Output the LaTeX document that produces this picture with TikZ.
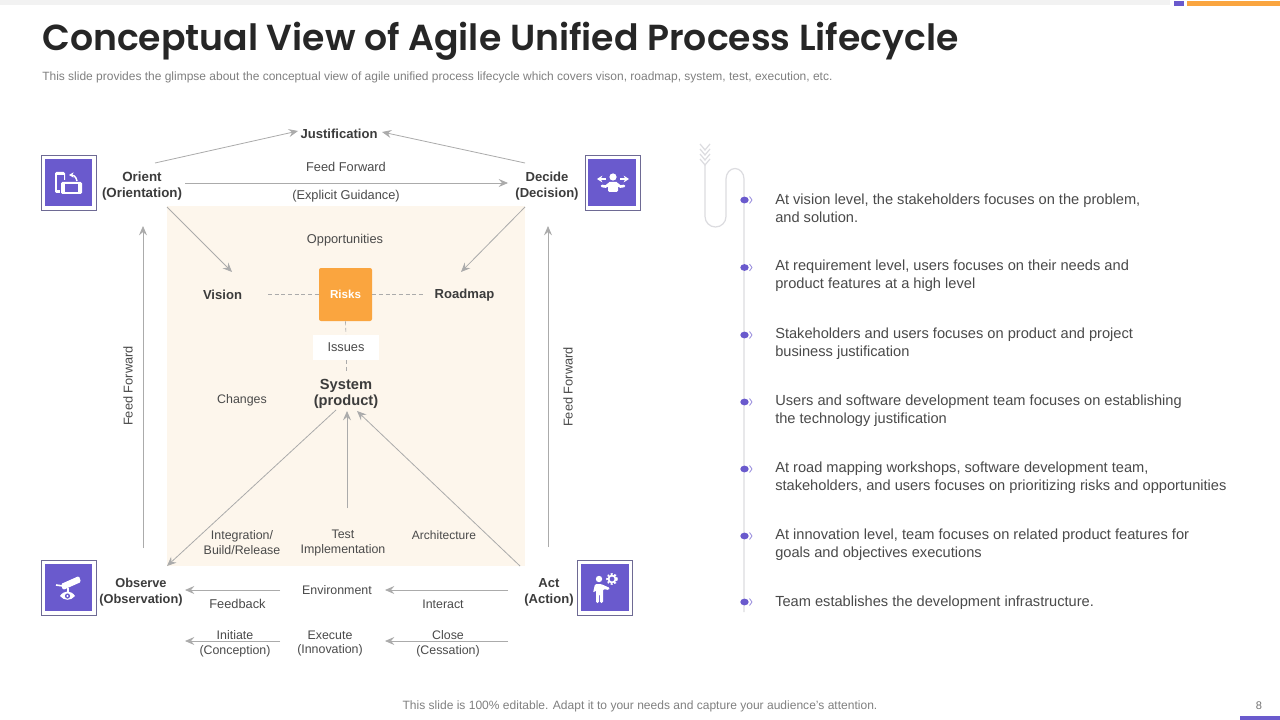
\documentclass[tikz,border=0pt]{standalone}
\usepackage{fontspec}
\setmainfont{Liberation Sans}
\newfontfamily\titlefont{Poppins SemiBold}
\usetikzlibrary{arrows.meta}
\definecolor{purp}{HTML}{6A5ACD}
\definecolor{orng}{HTML}{FAA53F}
\definecolor{fawn}{HTML}{FDF6EC}
\definecolor{conn}{HTML}{ABABAB}
\definecolor{txt}{HTML}{4A4A4A}
\definecolor{txtb}{HTML}{3C3C3C}
\definecolor{tline}{HTML}{DCDCE0}
\definecolor{boxln}{HTML}{6E6A94}
\tikzset{
 lab/.style={font=\fontsize{9.3}{11.2}\selectfont,text=txt,align=center,inner sep=0pt},
 labw/.style={lab,font=\fontsize{9.6}{11.2}\selectfont},
 blab/.style={font=\fontsize{9.8}{12}\selectfont\bfseries,text=txtb,align=center,inner sep=0pt},
 arr/.style={draw=conn,line width=0.6pt,-{Stealth[length=7pt,width=6pt,inset=2.5pt]}},
 dashln/.style={draw=conn,line width=0.5pt,dash pattern=on 3pt off 2pt},
 para/.style={font=\fontsize{10.97}{13.5}\selectfont,text=txt,align=left,anchor=west,inner sep=0pt},
 outerbox/.style={draw=boxln,line width=0.6pt,fill=white},
 innerbox/.style={fill=purp},
 ico/.style={fill=white,draw=none},
 dot/.style={fill=purp,draw=none},
 chev/.style={draw=purp!70,line width=0.6pt,line join=round},
}
\begin{document}
\begin{tikzpicture}[x=0.75pt,y=-0.75pt]
\useasboundingbox (0,0) rectangle (1280,720);
\fill[white] (0,0) rectangle (1280,720);
% top and bottom bars
\fill[black!5] (0,0) rectangle (1170,5);
\fill[purp] (1174,1) rectangle (1184,6);
\fill[orng] (1187,1) rectangle (1280,6);
\fill[purp] (1240,716) rectangle (1280,720);
% title
\node[anchor=west,inner sep=0pt,font=\fontsize{27.15}{32}\selectfont\titlefont,text=black!85] (title) at (42,41) {Conceptual View of Agile Unified Process Lifecycle};
\node[anchor=west,inner sep=0pt,font=\fontsize{8.99}{11}\selectfont,text=black!50] (sub) at (42,77) {This slide provides the glimpse about the conceptual view of agile unified process lifecycle which covers vison, roadmap, system, test, execution, etc.};
% background panel
\fill[fawn] (167,206) rectangle (525,566);
% icon boxes
\draw[outerbox] (41.5,155.5) rectangle (96.5,210.5);
\fill[innerbox] (45,159) rectangle (92,206);
\draw[outerbox] (585.5,155.5) rectangle (640,210.5);
\fill[innerbox] (588,159) rectangle (636,206);
\draw[outerbox] (41.5,560.5) rectangle (96.5,615.5);
\fill[innerbox] (45,564) rectangle (92,611);
\draw[outerbox] (577.5,560.5) rectangle (632.5,615.5);
\fill[innerbox] (581,564) rectangle (629,611);
% icon 1: rotating phone
\fill[ico,rounded corners=1pt] (55,172) rectangle (65,193);
\fill[purp] (56.5,175) rectangle (63.5,190);
\fill[purp] (59.5,180) rectangle (83.5,195.5);
\fill[ico,rounded corners=1pt] (61,182) rectangle (82,194);
\fill[purp] (65,184) rectangle (78,192);
\draw[white,line width=1.1pt,-{Stealth[length=3.5pt,width=4pt]}] (77,181) .. controls (76,176) and (73,175) .. (69,175);
% icon 2: person deciding
\fill[ico] (613,177) circle (3.6);
\fill[ico,rounded corners=1pt] (608,182) -- (618,182) -- (618,192) -- (608,192) -- cycle;
\draw[white,line width=2pt,line cap=round] (602,186) .. controls (605,187) and (606,187) .. (609,184);
\draw[white,line width=2pt,line cap=round] (624,186) .. controls (621,187) and (620,187) .. (617,184);
\draw[white,line width=1.5pt,-{Stealth[length=4pt,width=5pt]}] (606,179) -- (597,179);
\draw[white,line width=1.5pt,-{Stealth[length=4pt,width=5pt]}] (620,179) -- (629,179);
% icon 3: telescope and eye
\fill[ico,rounded corners=1pt] (61,584) -- (79,576) -- (81,582) -- (63,590) -- cycle;
\draw[white,line width=1.2pt] (56,585) -- (63,586);
\draw[white,line width=1.2pt] (68,588) -- (68,592);
\fill[ico] (60,596) .. controls (64,590) and (71,590) .. (75,596) .. controls (71,601) and (64,601) .. (60,596) -- cycle;
\fill[purp] (67.5,596) circle (2.6);
\fill[ico] (67.5,596) circle (1.2);
% icon 4: person and gear
\fill[ico] (599,579) circle (3.2);
\fill[ico,rounded corners=1pt] (595,584) -- (601,584) -- (610,588) -- (609,590) -- (603,589) -- (603,603) -- (600,603) -- (600,594) -- (599,594) -- (599,603) -- (596,603) -- (596,590) -- (593,593) -- cycle;
\draw[white,line width=1.6pt,dash pattern=on 1.3pt off 1.3pt] (612,579) circle (4.8);
\draw[white,line width=1.3pt] (612,579) circle (3.5);
% labels
\node[blab] (just) at (339,134) {Justification};
\node[blab,font=\fontsize{10}{12}\selectfont\bfseries] (orient) at (142,186) {Orient\\(Orientation)};
\node[blab] (decide) at (547,186) {Decide\\(Decision)};
\node[blab,font=\fontsize{9.6}{12}\selectfont\bfseries] (observe) at (141,592) {Observe\\(Observation)};
\node[blab] (act) at (549,592) {Act\\(Action)};
\node[blab] (vision) at (222.5,295) {Vision};
\node[blab] (roadmap) at (464.5,295) {Roadmap};
\node[blab,font=\fontsize{11}{12}\selectfont\bfseries] (system) at (346,394) {System\\(product)};
\node[labw] (ffwd) at (346,167) {Feed Forward};
\node[labw] (guid) at (346,196) {(Explicit Guidance)};
\node[labw] (opp) at (345,240.5) {Opportunities};
\node[lab] (chg) at (242,400) {Changes};
\node[labw,rotate=90] (ffl) at (128,386) {Feed Forward};
\node[labw,rotate=90] (ffr) at (568,387) {Feed Forward};
\node[lab] (integ) at (242,542.5) {Integration/\\Build/Release};
\node[lab] (test) at (343,543) {Test\\Implementation};
\node[lab,font=\fontsize{9}{11}\selectfont] (arch) at (444,535) {Architecture};
\node[lab] (env) at (337,590) {Environment};
\node[labw] (fb) at (237.5,604) {Feedback};
\node[lab] (inter) at (443,604) {Interact};
% risks and issues
\node[fill=orng,rounded corners=1.5pt,minimum width=39.75pt,minimum height=39.75pt,inner sep=0pt,font=\fontsize{8.7}{11}\selectfont\bfseries,text=white] (risks) at (345.5,294.5) {\raisebox{1pt}{Risks}};
\node[fill=white,minimum width=49.5pt,minimum height=18.75pt,inner sep=0pt,font=\fontsize{9.6}{11}\selectfont,text=txt] (issues) at (346,347.5) {Issues};
% connectors
\draw[arr] ([shift={(13,-23)}]orient.center) -- ([shift={(-41,-3)}]just.center);
\draw[arr] ([shift={(-22,-23)}]decide.center) -- ([shift={(43,-2)}]just.center);
\draw[arr] ([shift={(43,-3)}]orient.center) -- ([shift={(-39,-3)}]decide.center);
\draw[arr] ([shift={(25,21)}]orient.center) -- ([shift={(9.5,-23)}]vision.center);
\draw[arr] ([shift={(-22,21)}]decide.center) -- ([shift={(-3.5,-23)}]roadmap.center);
\draw[arr] ([shift={(2,-44)}]observe.center) -- ([shift={(1,40)}]orient.center);
\draw[arr] ([shift={(-1,-45)}]act.center) -- ([shift={(1,40)}]decide.center);
\draw[arr] ([shift={(-10,16)}]system.center) -- ([shift={(26,-26)}]observe.center);
\draw[arr] ([shift={(4,-35)}]test.center) -- ([shift={(1,17)}]system.center);
\draw[arr] ([shift={(-29,-26)}]act.center) -- ([shift={(11,17)}]system.center);
\draw[arr] ([shift={(-57,0)}]env.center) -- ([shift={(44,-2)}]observe.center);
\draw[arr] ([shift={(-41,-2)}]act.center) -- ([shift={(48,0)}]env.center);
\draw[dashln] ([shift={(45.5,-0.5)}]vision.center) -- (risks.west);
\draw[dashln] (risks.east) -- ([shift={(-39.5,-0.5)}]roadmap.center);
\draw[dashln] (risks.south) -- (issues.north);
\draw[dashln] (issues.south) -- ([shift={(0,-21)}]system.center);
% bottom row
\node[lab] (init) at (235,643.5) {Initiate\\(Conception)};
\node[lab] (exec) at (330,643.5) {Execute\\(Innovation)};
\node[lab] (close) at (448,643.5) {Close\\(Cessation)};
\draw[arr] ([shift={(-50,-2.5)}]exec.center) -- ([shift={(-50,-2.5)}]init.center);
\draw[arr] ([shift={(60,-2.5)}]close.center) -- ([shift={(55,-2.5)}]exec.center);
% timeline
\draw[tline,line width=0.9pt] (705,165) -- (705,216.5) arc[start angle=180,end angle=0,x radius=10.5,y radius=10.5] -- (726,179) arc[start angle=180,end angle=360,x radius=9,y radius=10.5] -- (744,612);
\foreach \yy in {144,149,154,159}{
 \draw[tline,line width=0.9pt] (700,\yy) -- (705,\yy+6) -- (710,\yy);
}
\foreach \yy in {200,267.5,335,402,469,536,602}{
 \fill[dot] (744.5,\yy) ellipse[x radius=4.2,y radius=3.4];
 \draw[chev] (749.5,\yy-3.5) -- (752,\yy) -- (749.5,\yy+3.5);
}
\node[para] (p1) at (775,208) {At vision level, the stakeholders focuses on the problem,\\and solution.};
\node[para] (p2) at (775,275.5) {At requirement level, users focuses on their needs and\\product features at a high level};
\node[para] (p3) at (775,343.5) {Stakeholders and users focuses on product and project\\business justification};
\node[para] (p4) at (775,410.5) {Users and software development team focuses on establishing\\the technology justification};
\node[para] (p5) at (775,477.5) {At road mapping workshops, software development team,\\stakeholders, and users focuses on prioritizing risks and opportunities};
\node[para] (p6) at (775,544.5) {At innovation level, team focuses on related product features for\\goals and objectives executions};
\node[para] (p7) at (775,603) {Team establishes the development infrastructure.};
% footer
\node[inner sep=0pt,font=\fontsize{9.03}{11}\selectfont,text=black!50] (foot) at (640,706.5) {This slide is 100\% editable. Adapt it to your needs and capture your audience’s attention.};
\node[inner sep=0pt,font=\fontsize{8.3}{10}\selectfont,text=black!55] (pg) at (1259,706) {8};
\end{tikzpicture}
\end{document}
